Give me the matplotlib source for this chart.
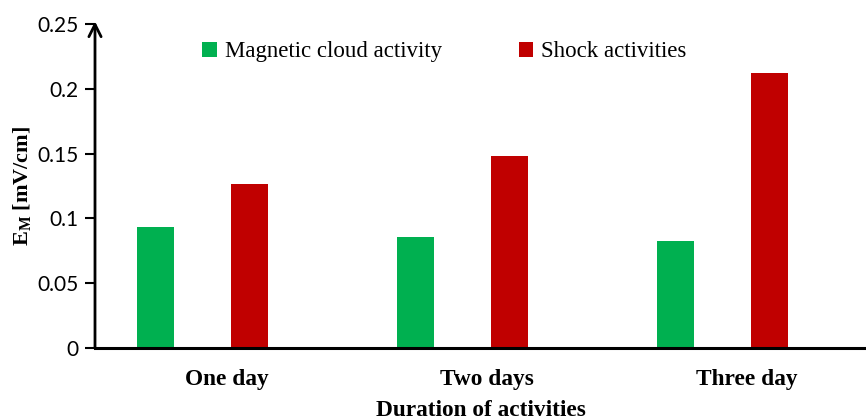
import matplotlib.pyplot as plt
import numpy as np

categories = ['One day', 'Two days', 'Three day']
magnetic_cloud = [0.0934, 0.0856, 0.0826]
shock = [0.1265, 0.148, 0.212]
yticks = [0, 0.05, 0.1, 0.15, 0.2, 0.25]
ytick_labels = ['0', '0.05', '0.1', '0.15', '0.2', '0.25']

serif = ['Liberation Serif', 'DejaVu Serif']
sans = ['Lato', 'DejaVu Sans']

plt.rcParams['mathtext.fontset'] = 'custom'
plt.rcParams['mathtext.rm'] = 'Liberation Serif'
plt.rcParams['mathtext.it'] = 'Liberation Serif:italic'
plt.rcParams['mathtext.bf'] = 'Liberation Serif:bold'

fig = plt.figure(figsize=(8.66, 4.19), dpi=100)
ax = fig.add_axes([0.1097, 0.1695, 0.8903, 0.7733])

x = np.arange(len(categories))
w = 0.142
off = 0.181
ax.bar(x - off, magnetic_cloud, w, color='#00b050', label='Magnetic cloud activity')
ax.bar(x + off, shock, w, color='#c00000', label='Shock activities')

ax.set_xlim(-0.413, 2.552)
ax.set_ylim(0, 0.25)
ax.set_yticks(yticks)
ax.set_yticklabels(ytick_labels, family=sans, fontsize=15)
# category labels sit slightly right of the bar pairs, as in the original
ax.set_xticks(x + 0.093)
ax.set_xticklabels(categories, family=serif, fontsize=16.8, fontweight='bold')
ax.tick_params(axis='x', length=0, pad=15)
ax.tick_params(axis='y', direction='out', length=7, width=1.5, pad=5)

for s in ['top', 'right']:
    ax.spines[s].set_visible(False)
ax.spines['left'].set_visible(False)
ax.spines['bottom'].set_linewidth(2.2)

# y axis with open arrowhead
ax.annotate('', xy=(0, 1.008), xytext=(0, 0), xycoords='axes fraction',
            arrowprops=dict(arrowstyle='->', lw=2, color='black',
                            mutation_scale=22, shrinkA=0, shrinkB=0))

ax.set_ylabel(r'$\mathbf{E}_\mathbf{M}$ [mV/cm]', family=serif, fontsize=16,
              fontweight='bold', labelpad=3)
ax.set_xlabel('Duration of activities', family=serif, fontsize=16.8,
              fontweight='bold', labelpad=7)

leg = fig.legend(loc='center', bbox_to_anchor=(0.513, 0.876), ncol=2,
                 frameon=False, prop={'family': serif, 'size': 16.5},
                 handlelength=0.65, handleheight=0.65, handletextpad=0.35,
                 columnspacing=3.35)

fig.savefig('out.png', dpi=100)
